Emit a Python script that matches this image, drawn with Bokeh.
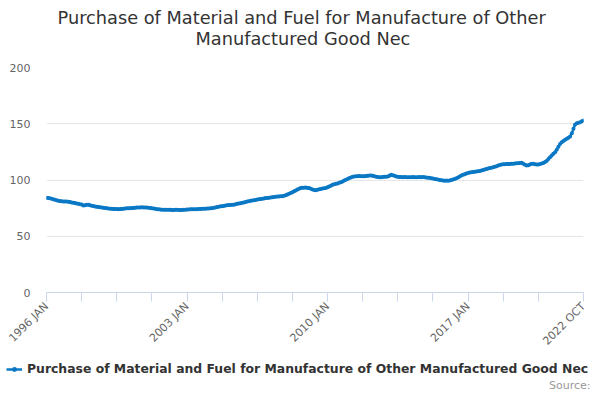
from math import pi
from bokeh.plotting import figure
from bokeh.layouts import column, row
from bokeh.models import (ColumnDataSource, Range1d, FixedTicker, Legend,
                          LegendItem, Title, Label)
from bokeh.embed import file_html
from bokeh.resources import INLINE

TITLE_1 = "Purchase of Material and Fuel for Manufacture of Other"
TITLE_2 = "Manufactured Good Nec"
SERIES_NAME = "Purchase of Material and Fuel for Manufacture of Other Manufactured Good Nec"
SOURCE_TEXT = "Source:"

# monthly values, 1996 JAN .. 2022 OCT
values_1996 = [84.2, 84.0, 83.7, 83.3, 82.9, 82.4, 81.9, 81.5, 81.3, 81.2, 81.0, 81.0]
values_1997 = [80.9, 80.7, 80.4, 80.1, 79.7, 79.5, 79.2, 78.9, 78.5, 78.2, 77.3, 77.6]
values_1998 = [77.9, 77.9, 77.6, 77.2, 76.8, 76.4, 76.2, 76.0, 75.8, 75.6, 75.3, 75.1]
values_1999 = [74.9, 74.7, 74.5, 74.4, 74.3, 74.2, 74.2, 74.1, 74.2, 74.3, 74.4, 74.6]
values_2000 = [74.8, 74.9, 75.0, 75.1, 75.2, 75.4, 75.5, 75.6, 75.6, 75.7, 75.6, 75.6]
values_2001 = [75.6, 75.4, 75.2, 74.9, 74.6, 74.4, 74.1, 73.9, 73.7, 73.6, 73.5, 73.5]
values_2002 = [73.6, 73.6, 73.5, 73.4, 73.4, 73.5, 73.5, 73.4, 73.3, 73.4, 73.5, 73.6]
values_2003 = [73.7, 73.8, 73.9, 73.9, 74.0, 74.0, 74.1, 74.2, 74.3, 74.4, 74.4, 74.5]
values_2004 = [74.6, 74.7, 74.8, 75.0, 75.3, 75.6, 75.9, 76.3, 76.6, 76.7, 77.0, 77.3]
values_2005 = [77.5, 77.7, 77.8, 77.9, 78.1, 78.4, 78.8, 79.1, 79.4, 79.7, 80.1, 80.5]
values_2006 = [80.8, 81.2, 81.5, 81.8, 82.0, 82.3, 82.6, 82.9, 83.1, 83.3, 83.6, 83.9]
values_2007 = [84.1, 84.3, 84.5, 84.7, 84.9, 85.1, 85.3, 85.4, 85.5, 85.6, 86.0, 86.5]
values_2008 = [87.1, 87.7, 88.4, 89.2, 90.0, 90.7, 91.5, 92.3, 93.0, 93.2, 93.1, 93.3]
values_2009 = [93.0, 92.8, 92.3, 91.6, 91.2, 91.0, 91.3, 91.7, 92.1, 92.4, 92.7, 93.0]
values_2010 = [93.6, 94.3, 95.0, 95.7, 96.2, 96.6, 97.0, 97.5, 98.0, 98.7, 99.5, 100.3]
values_2011 = [101.0, 101.7, 102.3, 102.8, 103.1, 103.3, 103.4, 103.5, 103.4, 103.3, 103.4, 103.6]
values_2012 = [103.8, 104.0, 104.0, 103.7, 103.3, 103.0, 102.7, 102.5, 102.5, 102.7, 102.9, 102.8]
values_2013 = [103.2, 103.8, 104.6, 104.3, 103.7, 103.2, 102.8, 102.7, 102.6, 102.5, 102.6, 102.5]
values_2014 = [102.5, 102.4, 102.5, 102.6, 102.5, 102.4, 102.5, 102.6, 102.5, 102.6, 102.5, 102.3]
values_2015 = [102.1, 101.9, 101.6, 101.3, 101.0, 100.7, 100.4, 100.1, 99.8, 99.6, 99.4, 99.5]
values_2016 = [99.3, 99.6, 100.0, 100.5, 101.0, 101.6, 102.3, 103.1, 103.9, 104.6, 105.2, 105.8]
values_2017 = [106.3, 106.7, 107.0, 107.2, 107.4, 107.6, 107.8, 108.1, 108.4, 108.8, 109.3, 109.8]
values_2018 = [110.2, 110.6, 111.0, 111.4, 111.8, 112.3, 112.8, 113.3, 113.8, 114.0, 114.1, 114.2]
values_2019 = [114.3, 114.3, 114.4, 114.4, 114.6, 114.8, 115.0, 115.2, 115.3, 114.5, 113.6, 112.9]
values_2020 = [113.2, 113.8, 114.4, 114.4, 114.0, 113.8, 113.8, 114.2, 114.6, 115.1, 115.9, 117.0]
values_2021 = [118.6, 120.3, 121.8, 123.3, 124.7, 127.0, 129.6, 132.1, 133.5, 134.6, 135.7, 136.6]
values_2022 = [137.6, 138.7, 141.5, 145.5, 149.3, 150.5, 150.9, 151.4, 152.2, 153.0]

values = (values_1996 + values_1997 + values_1998 + values_1999 + values_2000 +
          values_2001 + values_2002 + values_2003 + values_2004 + values_2005 +
          values_2006 + values_2007 + values_2008 + values_2009 + values_2010 +
          values_2011 + values_2012 + values_2013 + values_2014 + values_2015 +
          values_2016 + values_2017 + values_2018 + values_2019 + values_2020 +
          values_2021 + values_2022)

month_index = list(range(len(values)))

x_tick_positions = [0, 21, 42, 63, 84, 105, 126, 147, 168, 189, 210, 231, 252,
                    273, 294, 321]
x_tick_labels = {0: "1996 JAN", 84: "2003 JAN", 168: "2010 JAN",
                 252: "2017 JAN", 321: "2022 OCT"}
y_ticks = [0, 50, 100, 150, 200]

FONT = "DejaVu Sans"
LINE_COLOR = "#0a78c4"
LINE_WIDTH = 2.5
MARKER_SIZE = 4

source = ColumnDataSource(data=dict(x=month_index, y=values))

# ---------------- main chart ----------------
p = figure(width=592, height=360, output_backend="svg", toolbar_location=None,
           title=None,
           x_range=Range1d(0, len(values) - 1), y_range=Range1d(0, 200),
           min_border_left=46, min_border_right=9, min_border_top=67,
           min_border_bottom=68)
p.outline_line_color = None
p.background_fill_color = "white"
p.border_fill_color = "white"

line_r = p.line("x", "y", source=source, line_color=LINE_COLOR,
                line_width=LINE_WIDTH)
pts_r = p.scatter("x", "y", source=source, size=MARKER_SIZE,
                  fill_color=LINE_COLOR, line_color=LINE_COLOR, line_width=0)

xa = p.xaxis[0]
xa.ticker = FixedTicker(ticks=x_tick_positions)
xa.major_label_overrides = {t: x_tick_labels.get(t, "") for t in x_tick_positions}
xa.major_label_orientation = pi / 4
xa.major_label_text_font = FONT
xa.major_label_text_font_size = "11px"
xa.major_label_text_color = "#666666"
xa.axis_line_color = "#ccd6eb"
xa.major_tick_line_color = "#ccd6eb"
xa.major_tick_in = 0
xa.major_tick_out = 9
xa.minor_tick_line_color = None
xa.major_label_standoff = 3

ya = p.yaxis[0]
ya.ticker = FixedTicker(ticks=y_ticks)
ya.major_label_text_font = FONT
ya.major_label_text_font_size = "11px"
ya.major_label_text_color = "#666666"
ya.axis_line_color = None
ya.major_tick_line_color = None
ya.minor_tick_line_color = None
ya.major_tick_in = 0
ya.major_tick_out = 0
ya.major_label_standoff = 16

p.xgrid.grid_line_color = None
p.ygrid.grid_line_color = "#e6e6e6"
p.ygrid.ticker = FixedTicker(ticks=[50, 100, 150, 200])


def spacer(h):
    return Title(text=" ", text_font_size="1px", standoff=h,
                 text_color="white")


p.add_layout(spacer(15.5), "above")
p.add_layout(Title(text=TITLE_2, align="left", offset=149, standoff=0,
                   vertical_align="bottom", text_font=FONT,
                   text_font_size="17.75px", text_font_style="normal",
                   text_color="#333333"), "above")
p.add_layout(Title(text=TITLE_1, align="left", offset=11, standoff=-2,
                   vertical_align="bottom", text_font=FONT,
                   text_font_size="17.75px", text_font_style="normal",
                   text_color="#333333"), "above")

# ---------------- legend strip ----------------
# the series is re-drawn here only to give the legend its symbol; the ranges
# keep that copy out of sight
q = figure(width=592, height=32, output_backend="svg", toolbar_location=None,
           title=None, x_axis_type=None, y_axis_type=None,
           x_range=Range1d(0, len(values) - 1), y_range=Range1d(-2, -1),
           min_border_left=0, min_border_right=0, min_border_top=0,
           min_border_bottom=0)
q.outline_line_color = None
q.grid.visible = False
q.background_fill_color = "white"
q.border_fill_color = "white"

proxy_line = q.line("x", "y", source=source, line_color=LINE_COLOR,
                    line_width=LINE_WIDTH)
proxy_pts = q.scatter("x", "y", source=source, size=MARKER_SIZE,
                      fill_color=LINE_COLOR, line_color=LINE_COLOR,
                      line_width=0)

legend = Legend(items=[LegendItem(label=SERIES_NAME,
                                  renderers=[proxy_line, proxy_pts])],
                location=(6, 16), orientation="horizontal",
                glyph_width=16, glyph_height=12, label_height=12,
                label_standoff=5, padding=0, margin=0, spacing=0,
                border_line_color=None, background_fill_alpha=0,
                label_text_font=FONT, label_text_font_size="12.4px",
                label_text_font_style="bold", label_text_color="#333333")
q.add_layout(legend, "center")

q.add_layout(Label(x=590, y=7.5, x_units="screen", y_units="screen",
                   text=SOURCE_TEXT, text_align="right",
                   text_baseline="alphabetic", text_font=FONT,
                   text_font_size="11px", text_color="#999999"))

layout = column(p, row(q, spacing=0), spacing=0)
open("out.html", "w").write(file_html(layout, INLINE))
